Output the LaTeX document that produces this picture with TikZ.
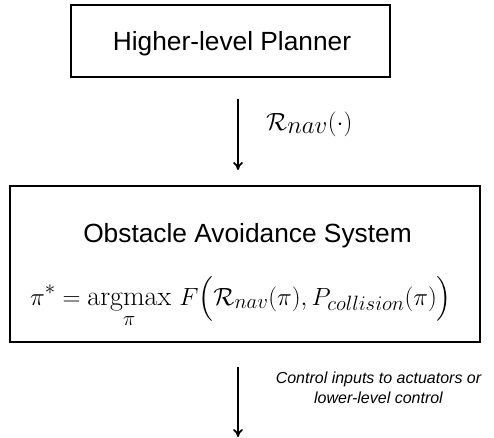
\documentclass[tikz,border=0pt]{standalone}
\usepackage{amsmath}
\usepackage{fontspec}
\usetikzlibrary{arrows.meta}
\newfontfamily\hv{Liberation Sans}
\tikzset{
  box/.style={draw, line width=2.5pt, inner sep=0pt},
  flow/.style={line width=1.8pt, -{To[length=8pt,width=10pt,line width=1.8pt]}},
  title/.style={font=\hv\fontsize{26.3}{30}\selectfont, inner sep=0pt, anchor=base},
  lab/.style={inner sep=0pt, align=center}
}
\begin{document}
\begin{tikzpicture}[x=1pt,y=-1pt]
\useasboundingbox (0,0) rectangle (494,437);
\node[box, minimum width=319pt, minimum height=72pt] (hp) at (230.5,41) {};
\node[title] (hpt) at (232,50) {Higher-level Planner};
\node[box, minimum width=470pt, minimum height=156pt] (oa) at (245,264) {};
\node[title] (oat) at (247.5,242) {Obstacle Avoidance System};
\node[lab, anchor=base, font=\fontsize{28}{32}\selectfont] (eq) at (241,305)
  {$\displaystyle \pi^* = \operatorname*{argmax}_{\pi}\, F\Bigl(\mathcal{R}_{nav}(\pi), P_{collision}(\pi)\Bigr)$};
\coordinate (a1s) at (238,99);
\coordinate (a1e) at (238,170);
\draw[flow] (a1s) -- (a1e);
\node[lab, anchor=base west, font=\fontsize{26}{30}\selectfont] (l1) at (266,130) {$\mathcal{R}_{\textstyle nav}(\cdot)$};
\coordinate (a2s) at (238,367);
\coordinate (a2e) at (238,437);
\draw[flow] (a2s) -- (a2e);
\node[lab, font=\hv\itshape\fontsize{16}{20}\selectfont, anchor=base] (l2) at (378.5,403) {Control inputs to actuators or\\lower-level control};
\end{tikzpicture}
\end{document}
